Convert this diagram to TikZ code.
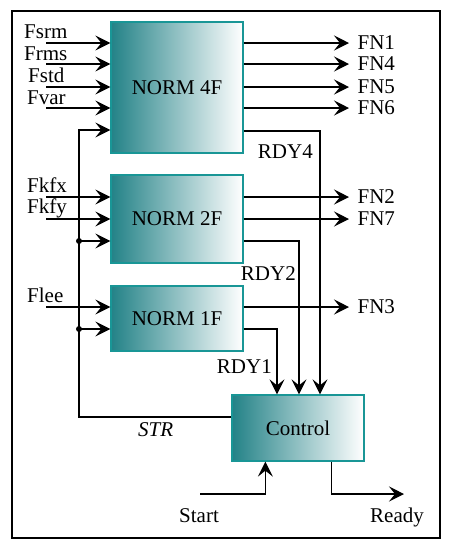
\documentclass[tikz,border=0pt]{standalone}
\usepackage{fontspec}
\setmainfont{Liberation Serif}
\usepackage{tikz}
\usetikzlibrary{arrows.meta}
\definecolor{blockline}{RGB}{25,150,150}
\definecolor{blockdark}{RGB}{35,130,135}
\definecolor{blockmid}{RGB}{140,190,195}

\begin{document}
\begin{tikzpicture}[x=1pt, y=-1pt,
    block/.style={draw=blockline, line width=1.3pt, left color=blockdark, middle color=blockmid, right color=white, minimum width=132pt, inner sep=0pt, font=\fontsize{21}{25}\selectfont},
    sig/.style={line width=1.3pt, -{Stealth[length=15pt, width=15pt, inset=6pt]}},
    lbl/.style={inner sep=0pt, font=\fontsize{21}{25}\selectfont}]

        \useasboundingbox (0,0) rectangle (451,550);
        \draw[line width=2.3pt] (12,11) rectangle (440,538);

        % blocks
        \node[block, minimum height=131pt] (norm4) at (177,87.5) {NORM 4F};
        \node[block, minimum height=88pt] (norm2) at (177,219) {NORM 2F};
        \node[block, minimum height=65pt] (norm1) at (177,318.5) {NORM 1F};
        \node[block, minimum height=66pt] (ctrl) at (298,428) {Control};

        % inputs
        \coordinate (fsrm) at (46,43);
        \coordinate (frms) at (46,64);
        \coordinate (fstd) at (46,87);
        \coordinate (fvar) at (46,108);
        \coordinate (fkfx) at (46,197);
        \coordinate (fkfy) at (46,219);
        \coordinate (flee) at (46,307);
        \foreach \c in {fsrm,frms,fstd,fvar}
            \draw[sig] (\c) -- (\c -| norm4.west);
        \foreach \c in {fkfx,fkfy}
            \draw[sig] (\c) -- (\c -| norm2.west);
        \draw[sig] (flee) -- (flee -| norm1.west);

        \node[lbl, anchor=base west] at (24,38) {Fsrm};
        \node[lbl, anchor=base west] at (24,60) {Frms};
        \node[lbl, anchor=base west] at (28,82) {Fstd};
        \node[lbl, anchor=base west] at (27,104) {Fvar};
        \node[lbl, anchor=base west] at (27,192) {Fkfx};
        \node[lbl, anchor=base west] at (27,213) {Fkfy};
        \node[lbl, anchor=base west] at (27,302) {Flee};

        % outputs
        \coordinate (fn1) at (349,43);
        \coordinate (fn4) at (349,64);
        \coordinate (fn5) at (349,87);
        \coordinate (fn6) at (349,108);
        \coordinate (fn2) at (349,197);
        \coordinate (fn7) at (349,219);
        \coordinate (fn3) at (349,307);
        \foreach \c/\t in {fn1/FN1,fn4/FN4,fn5/FN5,fn6/FN6}
            \draw[sig] (norm4.east |- \c) -- (\c) node[lbl, anchor=base west, xshift=8pt, yshift=-6.5pt] {\t};
        \foreach \c/\t in {fn2/FN2,fn7/FN7}
            \draw[sig] (norm2.east |- \c) -- (\c) node[lbl, anchor=base west, xshift=8pt, yshift=-6.5pt] {\t};
        \draw[sig] (norm1.east |- fn3) -- (fn3) node[lbl, anchor=base west, xshift=8pt, yshift=-6.5pt] {FN3};

        % ready lines
        \coordinate (rdy4) at (320,131);
        \coordinate (rdy2) at (299,241);
        \coordinate (rdy1) at (277,329);
        \foreach \r/\b in {rdy4/norm4,rdy2/norm2,rdy1/norm1}
            \draw[sig] (\b.east |- \r) -- (\r) -- (\r |- ctrl.north);
        \node[lbl, anchor=base east] at (313,158) {RDY4};
        \node[lbl, anchor=base east] at (296,280) {RDY2};
        \node[lbl, anchor=base east] at (272,373) {RDY1};

        % start feedback
        \coordinate (str) at (79,417);
        \coordinate (fb4) at (79,130);
        \coordinate (fb2) at (79,241);
        \coordinate (fb1) at (79,329);
        \draw[sig] (ctrl.west |- str) -- (str) -- (fb4) -- (fb4 -| norm4.west);
        \draw[sig] (fb2) -- (fb2 -| norm2.west);
        \draw[sig] (fb1) -- (fb1 -| norm1.west);
        \fill (fb2) circle (3pt);
        \fill (fb1) circle (3pt);
        \node[lbl, anchor=base west] at (138,436) {\itshape STR};

        % start and ready
        \coordinate (start) at (200,494);
        \coordinate (ready) at (404,494);
        \coordinate (cin) at ([xshift=34pt]ctrl.south west);
        \coordinate (cout) at ([xshift=100pt]ctrl.south west);
        \draw[sig] (start) -- (start -| cin) -- (cin);
        \draw[sig] (cout) -- (cout |- ready) -- (ready);
        \node[lbl, anchor=base] at (199,522) {Start};
        \node[lbl, anchor=base] at (397,522) {Ready};

\end{tikzpicture}
\end{document}
